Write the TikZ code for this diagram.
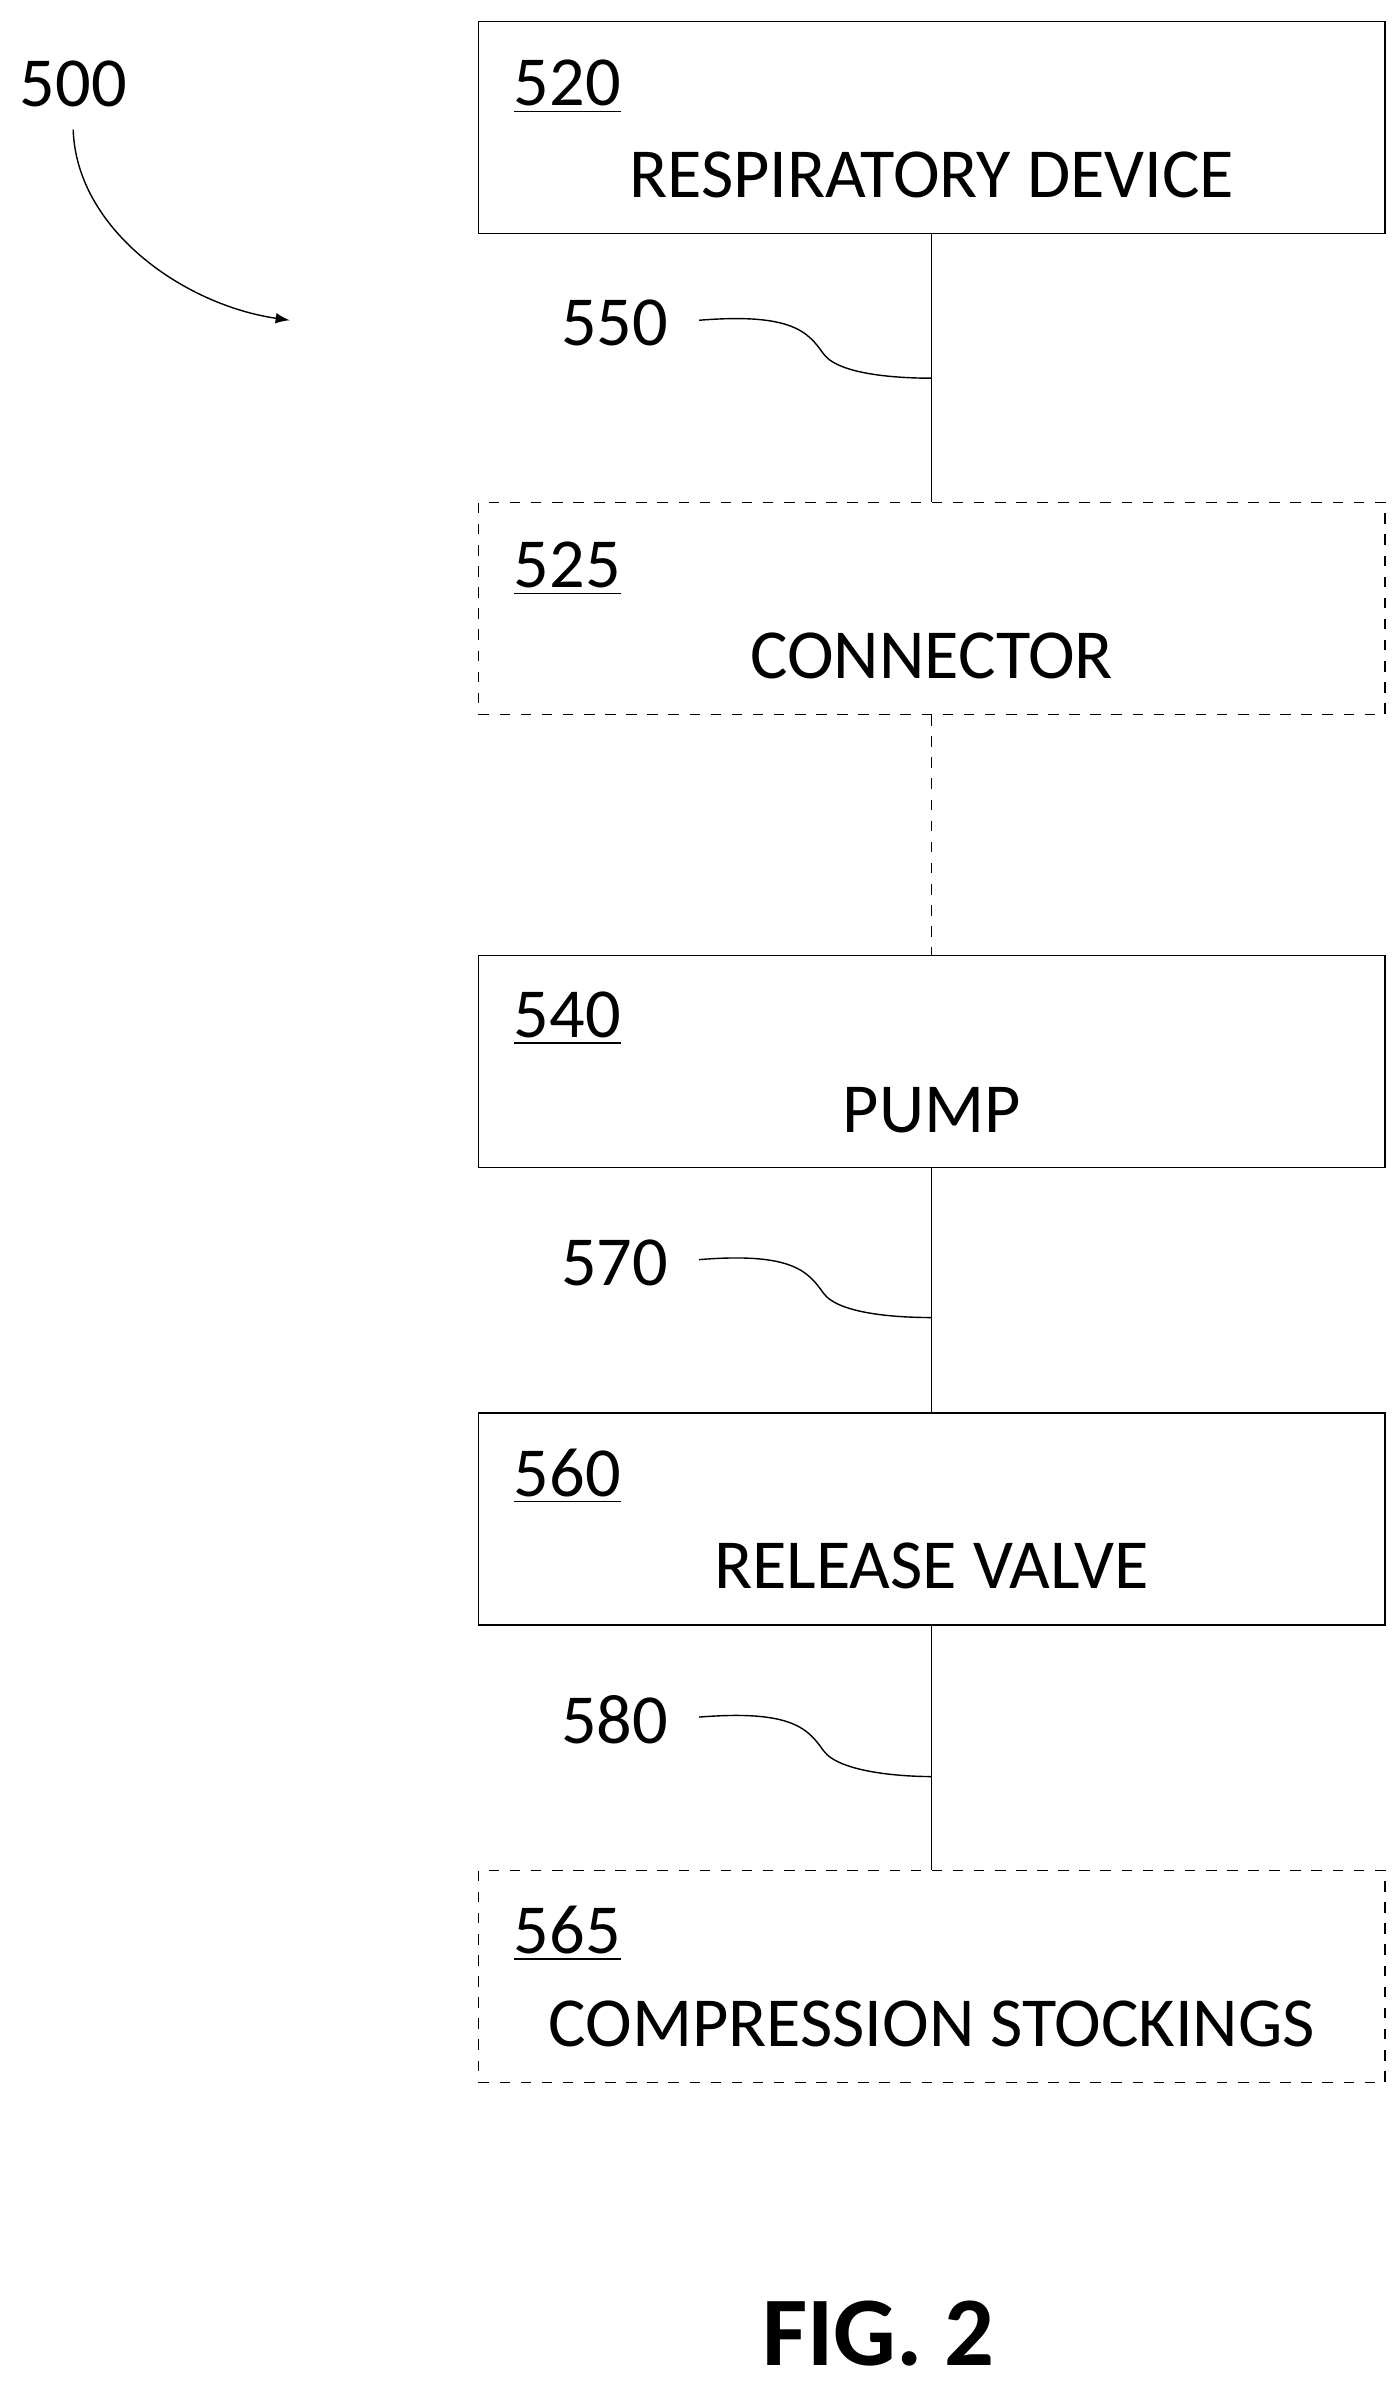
\documentclass[tikz,border=0pt]{standalone}
\usepackage{fontspec}
\setmainfont{Carlito}
\begin{document}
\begin{tikzpicture}[x=0.01525cm,y=-0.01525cm]
\tikzset{box/.style={draw,minimum width=9.06cm,minimum height=2.12cm,inner sep=0pt},
dbox/.style={box,dashed},
num/.style={font=\fontsize{20}{24}\selectfont,inner sep=0pt},
lbl/.style={font=\fontsize{20}{24}\selectfont,inner sep=0pt}}
\useasboundingbox (0,0) rectangle (918,1564);
\node[box] (b520) at (611,83.5) {};
\node[dbox] (b525) at (611,399) {};
\node[box] (b540) at (611,696) {};
\node[box] (b560) at (611,996) {};
\node[dbox] (b565) at (611,1296) {};
\draw (372,57) node[num] {\underline{520}};
\draw (611,115) node[lbl] {RESPIRATORY DEVICE};
\draw (372,373) node[num] {\underline{525}};
\draw (611,430) node[lbl] {CONNECTOR};
\draw (372,668) node[num] {\underline{540}};
\draw (611,728) node[lbl] {PUMP};
\draw (372,968) node[num] {\underline{560}};
\draw (611,1027) node[lbl] {RELEASE VALVE};
\draw (372,1268) node[num] {\underline{565}};
\draw (611,1327) node[lbl] {COMPRESSION STOCKINGS};
% connectors
\draw (b520) -- (b525);
\draw[dashed] (b525) -- (b540);
\draw (b540) -- (b560);
\draw (b560) -- (b565);
% leaders
\node[num] (n550) at (403,212) {550};
\node[num] (n570) at (403,828) {570};
\node[num] (n580) at (403,1128) {580};
\coordinate (p550) at (611,248);
\coordinate (p570) at (611,864);
\coordinate (p580) at (611,1165);
\draw (n550.east)+(20,-2) .. controls (520,205) and (530,218) .. (540,232) .. controls (550,246) and (590,248) .. (p550);
\draw (n570.east)+(20,-2) .. controls (520,821) and (530,834) .. (540,848) .. controls (550,862) and (590,864) .. (p570);
\draw (n580.east)+(20,-2) .. controls (520,1121) and (530,1134) .. (540,1148) .. controls (550,1162) and (590,1165) .. (p580);
\node[num] (n500) at (48,55) {500};
\coordinate (a500) at (190,210);
\draw[-latex] (48,85) .. controls (50,150) and (120,200) .. (a500);
\node[font=\fontsize{28}{32}\selectfont\bfseries,inner sep=0pt] (fig) at (576,1530) {FIG. 2};
\end{tikzpicture}
\end{document}
